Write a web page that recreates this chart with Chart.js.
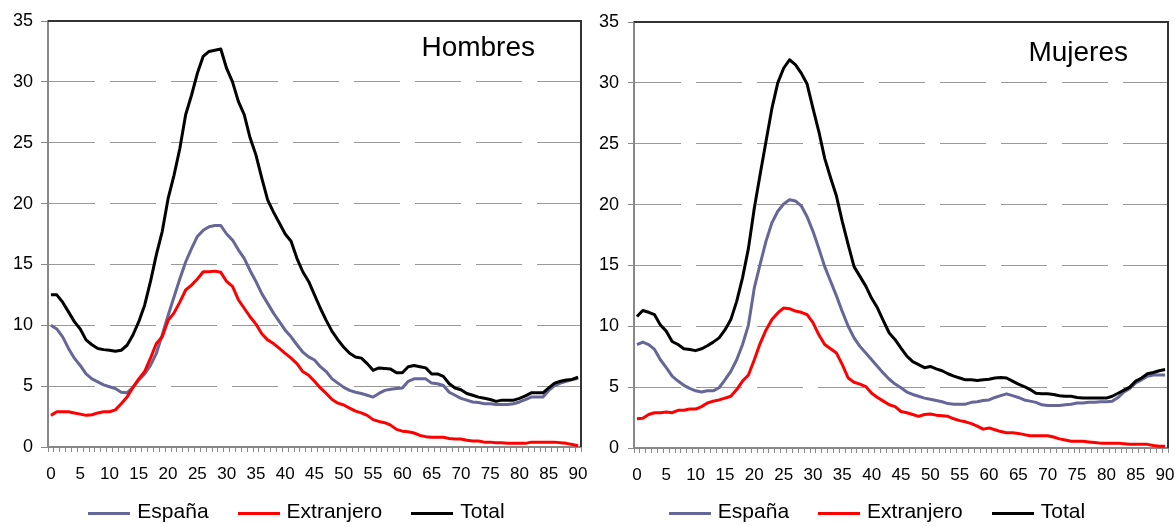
<!DOCTYPE html>
<html lang="es">
<head>
<meta charset="utf-8">
<script src="https://cdn.jsdelivr.net/npm/chart.js@4.4.1/dist/chart.umd.min.js"></script>
<style>
  html, body { margin: 0; padding: 0; background: #fff; }
  #wrap { position: relative; width: 1175px; height: 527px; }
  .panel { position: absolute; top: 0; height: 527px; }
  #left { left: 0; width: 590px; }
  #right { left: 590px; width: 585px; }
  .panel canvas { position: absolute; left: 0; top: 0; }
  .leyenda {
    position: absolute; top: 498px; height: 26px; left: 0;
    display: flex; justify-content: center; align-items: center;
    font: 21px "Liberation Sans", Arial, Helvetica, sans-serif; color: #000;
  }
  #leyenda-hombres { width: 593px; }
  #leyenda-mujeres { width: 574px; }
  .leyenda .item { display: flex; align-items: center; margin: 0 14.5px; white-space: nowrap; }
  .leyenda .linea { width: 42px; height: 3px; margin-right: 7px; position: relative; top: 2px; }
</style>
</head>
<body>
<div id="wrap">
  <div class="panel" id="left">
    <canvas id="hombres" width="590" height="527"></canvas>
    <div class="leyenda" id="leyenda-hombres"></div>
  </div>
  <div class="panel" id="right">
    <canvas id="mujeres" width="585" height="527"></canvas>
    <div class="leyenda" id="leyenda-mujeres"></div>
  </div>
</div>
<script>
// Edad (0..90)
const edades = [
  0, 1, 2, 3, 4, 5, 6, 7, 8, 9, 10, 11, 12, 13, 14, 15, 16, 17, 18, 19,
  20, 21, 22, 23, 24, 25, 26, 27, 28, 29, 30, 31, 32, 33, 34, 35, 36, 37, 38, 39,
  40, 41, 42, 43, 44, 45, 46, 47, 48, 49, 50, 51, 52, 53, 54, 55, 56, 57, 58, 59,
  60, 61, 62, 63, 64, 65, 66, 67, 68, 69, 70, 71, 72, 73, 74, 75, 76, 77, 78, 79,
  80, 81, 82, 83, 84, 85, 86, 87, 88, 89, 90
];
const yTicks = [0, 5, 10, 15, 20, 25, 30, 35];
const seriesNames = ['España', 'Extranjero', 'Total'];

// Hombres
const hombresEspana = [
  10.0, 9.7, 9.05, 8.1, 7.3, 6.7, 6.0, 5.6, 5.35, 5.1,
  4.95, 4.8, 4.5, 4.45, 4.9, 5.5, 6.0, 6.7, 7.7, 9.2,
  10.8, 12.3, 13.8, 15.2, 16.3, 17.3, 17.8, 18.1, 18.2, 18.2,
  17.5, 17.0, 16.2, 15.5, 14.5, 13.6, 12.6, 11.8, 11.0, 10.3,
  9.6, 9.05, 8.4, 7.8, 7.4, 7.15, 6.6, 6.2, 5.6, 5.25,
  4.9, 4.65, 4.5, 4.4, 4.25, 4.1, 4.4, 4.65, 4.75, 4.8,
  4.85, 5.4, 5.6, 5.6, 5.6, 5.25, 5.2, 5.05, 4.5, 4.25,
  4.0, 3.85, 3.7, 3.65, 3.55, 3.55, 3.5, 3.5, 3.5, 3.55,
  3.7, 3.9, 4.1, 4.1, 4.1, 4.65, 5.05, 5.25, 5.4, 5.55,
  5.65
];
const hombresExtranjero = [
  2.6, 2.9, 2.9, 2.9, 2.8, 2.7, 2.6, 2.65, 2.8, 2.9,
  2.9, 3.05, 3.55, 4.1, 4.9, 5.6, 6.2, 7.3, 8.5, 9.05,
  10.4, 11.0, 11.9, 12.9, 13.3, 13.8, 14.4, 14.4, 14.45, 14.35,
  13.6, 13.2, 12.1, 11.4, 10.7, 10.1, 9.3, 8.8, 8.5, 8.1,
  7.7, 7.3, 6.85, 6.2, 5.9, 5.4, 4.85, 4.4, 3.9, 3.6,
  3.45, 3.2, 2.95, 2.8, 2.6, 2.25, 2.1, 2.0, 1.8, 1.45,
  1.3, 1.25, 1.15, 0.95, 0.85, 0.8, 0.8, 0.8, 0.7, 0.65,
  0.65, 0.55, 0.5, 0.5, 0.4, 0.4, 0.35, 0.35, 0.3, 0.3,
  0.3, 0.3, 0.4, 0.4, 0.4, 0.4, 0.4, 0.35, 0.3, 0.2,
  0.1
];
const hombresTotal = [
  12.5, 12.5, 11.9, 11.1, 10.3, 9.7, 8.8, 8.4, 8.1, 8.0,
  7.95, 7.87, 7.95, 8.36, 9.2, 10.3, 11.65, 13.6, 15.8, 17.7,
  20.4, 22.3, 24.5, 27.3, 28.9, 30.7, 32.1, 32.5, 32.6, 32.7,
  31.1, 30.0, 28.4, 27.3, 25.4, 24.0, 22.1, 20.3, 19.3, 18.4,
  17.5, 16.9, 15.5, 14.4, 13.6, 12.5, 11.4, 10.4, 9.5, 8.8,
  8.2, 7.7, 7.4, 7.3, 6.85, 6.3, 6.5, 6.45, 6.4, 6.1,
  6.1, 6.6, 6.7, 6.6, 6.5, 6.0, 6.0, 5.8, 5.2, 4.85,
  4.7, 4.4, 4.25, 4.1, 4.0, 3.9, 3.75, 3.85, 3.85, 3.85,
  4.0, 4.2, 4.45, 4.45, 4.45, 4.85, 5.25, 5.4, 5.5, 5.55,
  5.75
];

// Mujeres
const mujeresEspana = [
  8.5, 8.7, 8.5, 8.1, 7.25, 6.6, 5.9, 5.5, 5.15, 4.9,
  4.7, 4.6, 4.7, 4.7, 4.95, 5.6, 6.3, 7.25, 8.5, 10.1,
  13.15, 15.1, 17.0, 18.5, 19.45, 20.05, 20.4, 20.3, 19.9, 19.0,
  17.8, 16.4, 14.9, 13.7, 12.5, 11.2, 10.0, 9.05, 8.35, 7.8,
  7.25, 6.7, 6.15, 5.65, 5.25, 4.95, 4.6, 4.4, 4.25, 4.1,
  4.0, 3.9, 3.8, 3.65, 3.6, 3.6, 3.6, 3.75, 3.8, 3.9,
  3.95, 4.15, 4.3, 4.45, 4.3, 4.15, 3.95, 3.85, 3.75, 3.55,
  3.5, 3.5, 3.5, 3.55, 3.6, 3.7, 3.7, 3.75, 3.75, 3.8,
  3.8, 3.85, 4.15, 4.6, 4.9, 5.35, 5.6, 5.9, 6.0, 6.0,
  6.0
];
const mujeresExtranjero = [
  2.4, 2.45, 2.75, 2.9, 2.9, 2.95, 2.9, 3.1, 3.1, 3.2,
  3.2, 3.4, 3.7, 3.85, 3.95, 4.1, 4.25, 4.8, 5.5, 6.0,
  7.25, 8.6, 9.7, 10.55, 11.1, 11.5, 11.45, 11.25, 11.15, 10.95,
  10.3, 9.3, 8.5, 8.15, 7.8, 6.85, 5.75, 5.4, 5.25, 5.05,
  4.5, 4.15, 3.85, 3.55, 3.4, 3.0, 2.9, 2.75, 2.6, 2.75,
  2.8, 2.7, 2.65, 2.6, 2.4, 2.25, 2.15, 2.0, 1.8, 1.55,
  1.65, 1.5, 1.35, 1.25, 1.25, 1.2, 1.1, 1.0, 1.0, 1.0,
  1.0, 0.9, 0.75, 0.65, 0.55, 0.55, 0.55, 0.5, 0.45, 0.4,
  0.4, 0.4, 0.4, 0.35, 0.3, 0.3, 0.3, 0.3, 0.2, 0.15,
  0.15
];
const mujeresTotal = [
  10.8, 11.3, 11.15, 10.95, 10.1, 9.6, 8.75, 8.5, 8.15, 8.1,
  8.0, 8.15, 8.4, 8.7, 9.05, 9.7, 10.55, 12.05, 14.0, 16.4,
  19.7, 22.5, 25.2, 27.9, 30.0, 31.2, 31.9, 31.5, 30.8, 29.9,
  27.9, 26.0, 23.8, 22.2, 20.7, 18.6, 16.7, 14.9, 14.1, 13.3,
  12.3, 11.5, 10.45, 9.45, 8.9, 8.2, 7.55, 7.1, 6.85, 6.6,
  6.7, 6.5, 6.35, 6.1, 5.9, 5.75, 5.6, 5.6, 5.55, 5.6,
  5.65, 5.75, 5.8, 5.75, 5.5, 5.25, 5.05, 4.8, 4.5, 4.45,
  4.45, 4.4, 4.3, 4.25, 4.25, 4.15, 4.1, 4.1, 4.1, 4.1,
  4.1, 4.25, 4.5, 4.75, 5.0, 5.5, 5.75, 6.1, 6.2, 6.35,
  6.45
];

const FONT = '"Liberation Sans", Arial, Helvetica, sans-serif';
const colores = ['#666699', '#ff0000', '#000000'];

// top/right frame of the plot area plus the panel caption
const marco = {
  id: 'marco',
  afterDatasetsDraw(chart, args, opts) {
    const { ctx, chartArea: a } = chart;
    ctx.save();
    ctx.strokeStyle = '#333';
    ctx.lineWidth = 2;
    ctx.beginPath();
    ctx.moveTo(a.left, a.top);
    ctx.lineTo(a.right, a.top);
    ctx.lineTo(a.right, a.bottom);
    ctx.stroke();
    ctx.font = '28px ' + FONT;
    ctx.fillStyle = '#000';
    ctx.textAlign = 'right';
    ctx.textBaseline = 'alphabetic';
    ctx.fillText(opts.texto, a.right - opts.dx, a.top + opts.dy);
    ctx.restore();
  }
};

// legend built as html under the canvas, in dataset order
const leyendaHtml = {
  id: 'leyendaHtml',
  afterUpdate(chart, args, opts) {
    const box = document.getElementById(opts.containerID);
    box.innerHTML = '';
    Chart.defaults.plugins.legend.labels.generateLabels(chart)
      .sort((a, b) => a.datasetIndex - b.datasetIndex)
      .forEach(item => {
        const el = document.createElement('span');
        el.className = 'item';
        const linea = document.createElement('span');
        linea.className = 'linea';
        linea.style.background = item.strokeStyle;
        const txt = document.createElement('span');
        txt.textContent = item.text;
        el.appendChild(linea);
        el.appendChild(txt);
        box.appendChild(el);
      });
  }
};

function panel(id, texto, espana, extranjero, total, g) {
  const series = [espana, extranjero, total];
  return new Chart(document.getElementById(id), {
    type: 'line',
    data: {
      labels: edades,
      datasets: series.map((d, i) => ({
        label: seriesNames[i],
        data: d,
        borderColor: colores[i],
        backgroundColor: colores[i],
        borderWidth: 3,
        pointRadius: 0,
        tension: 0,
        borderJoinStyle: 'round',
        order: 3 - i
      }))
    },
    options: {
      responsive: false,
      animation: false,
      events: [],
      layout: { padding: { left: g.padLeft, right: g.padRight, top: g.padTop, bottom: 0 } },
      scales: {
        x: {
          offset: true,
          grid: { drawOnChartArea: false, tickLength: 5, tickColor: '#888', offset: true },
          border: { color: '#888', width: 2 },
          ticks: {
            autoSkip: false, maxRotation: 0, padding: 12, color: '#000',
            font: { size: 17, family: FONT },
            callback: (v, i) => (edades[i] % 5 === 0 ? String(edades[i]) : '')
          },
          afterFit: s => { s.height = g.xHeight; s.paddingLeft = 0; s.paddingRight = 0; }
        },
        y: {
          min: 0, max: 35,
          afterBuildTicks: s => { s.ticks = yTicks.map(v => ({ value: v })); },
          grid: { color: '#999', lineWidth: 1, tickLength: g.tickLen, tickColor: '#888' },
          border: { color: '#888', width: 2, dash: [46, 15] },
          ticks: { padding: g.tickPad, color: '#000', font: { size: 18, family: FONT } },
          afterFit: s => { s.width = g.yWidth; s.paddingTop = 0; s.paddingBottom = 0; }
        }
      },
      plugins: {
        tooltip: { enabled: false },
        legend: { display: false },
        leyendaHtml: { containerID: 'leyenda-' + id },
        marco: { texto: texto, dx: g.dx, dy: g.dy }
      }
    },
    plugins: [marco, leyendaHtml]
  });
}

panel('hombres', 'Hombres', hombresEspana, hombresExtranjero, hombresTotal,
  { padLeft: 8, padRight: 9, padTop: 21, yWidth: 40, xHeight: 80, tickLen: 7, tickPad: 8, dx: 46, dy: 35 });
panel('mujeres', 'Mujeres', mujeresEspana, mujeresExtranjero, mujeresTotal,
  { padLeft: 0, padRight: 7, padTop: 22, yWidth: 44, xHeight: 79, tickLen: 6, tickPad: 9, dx: 40, dy: 39 });
</script>
</body>
</html>
